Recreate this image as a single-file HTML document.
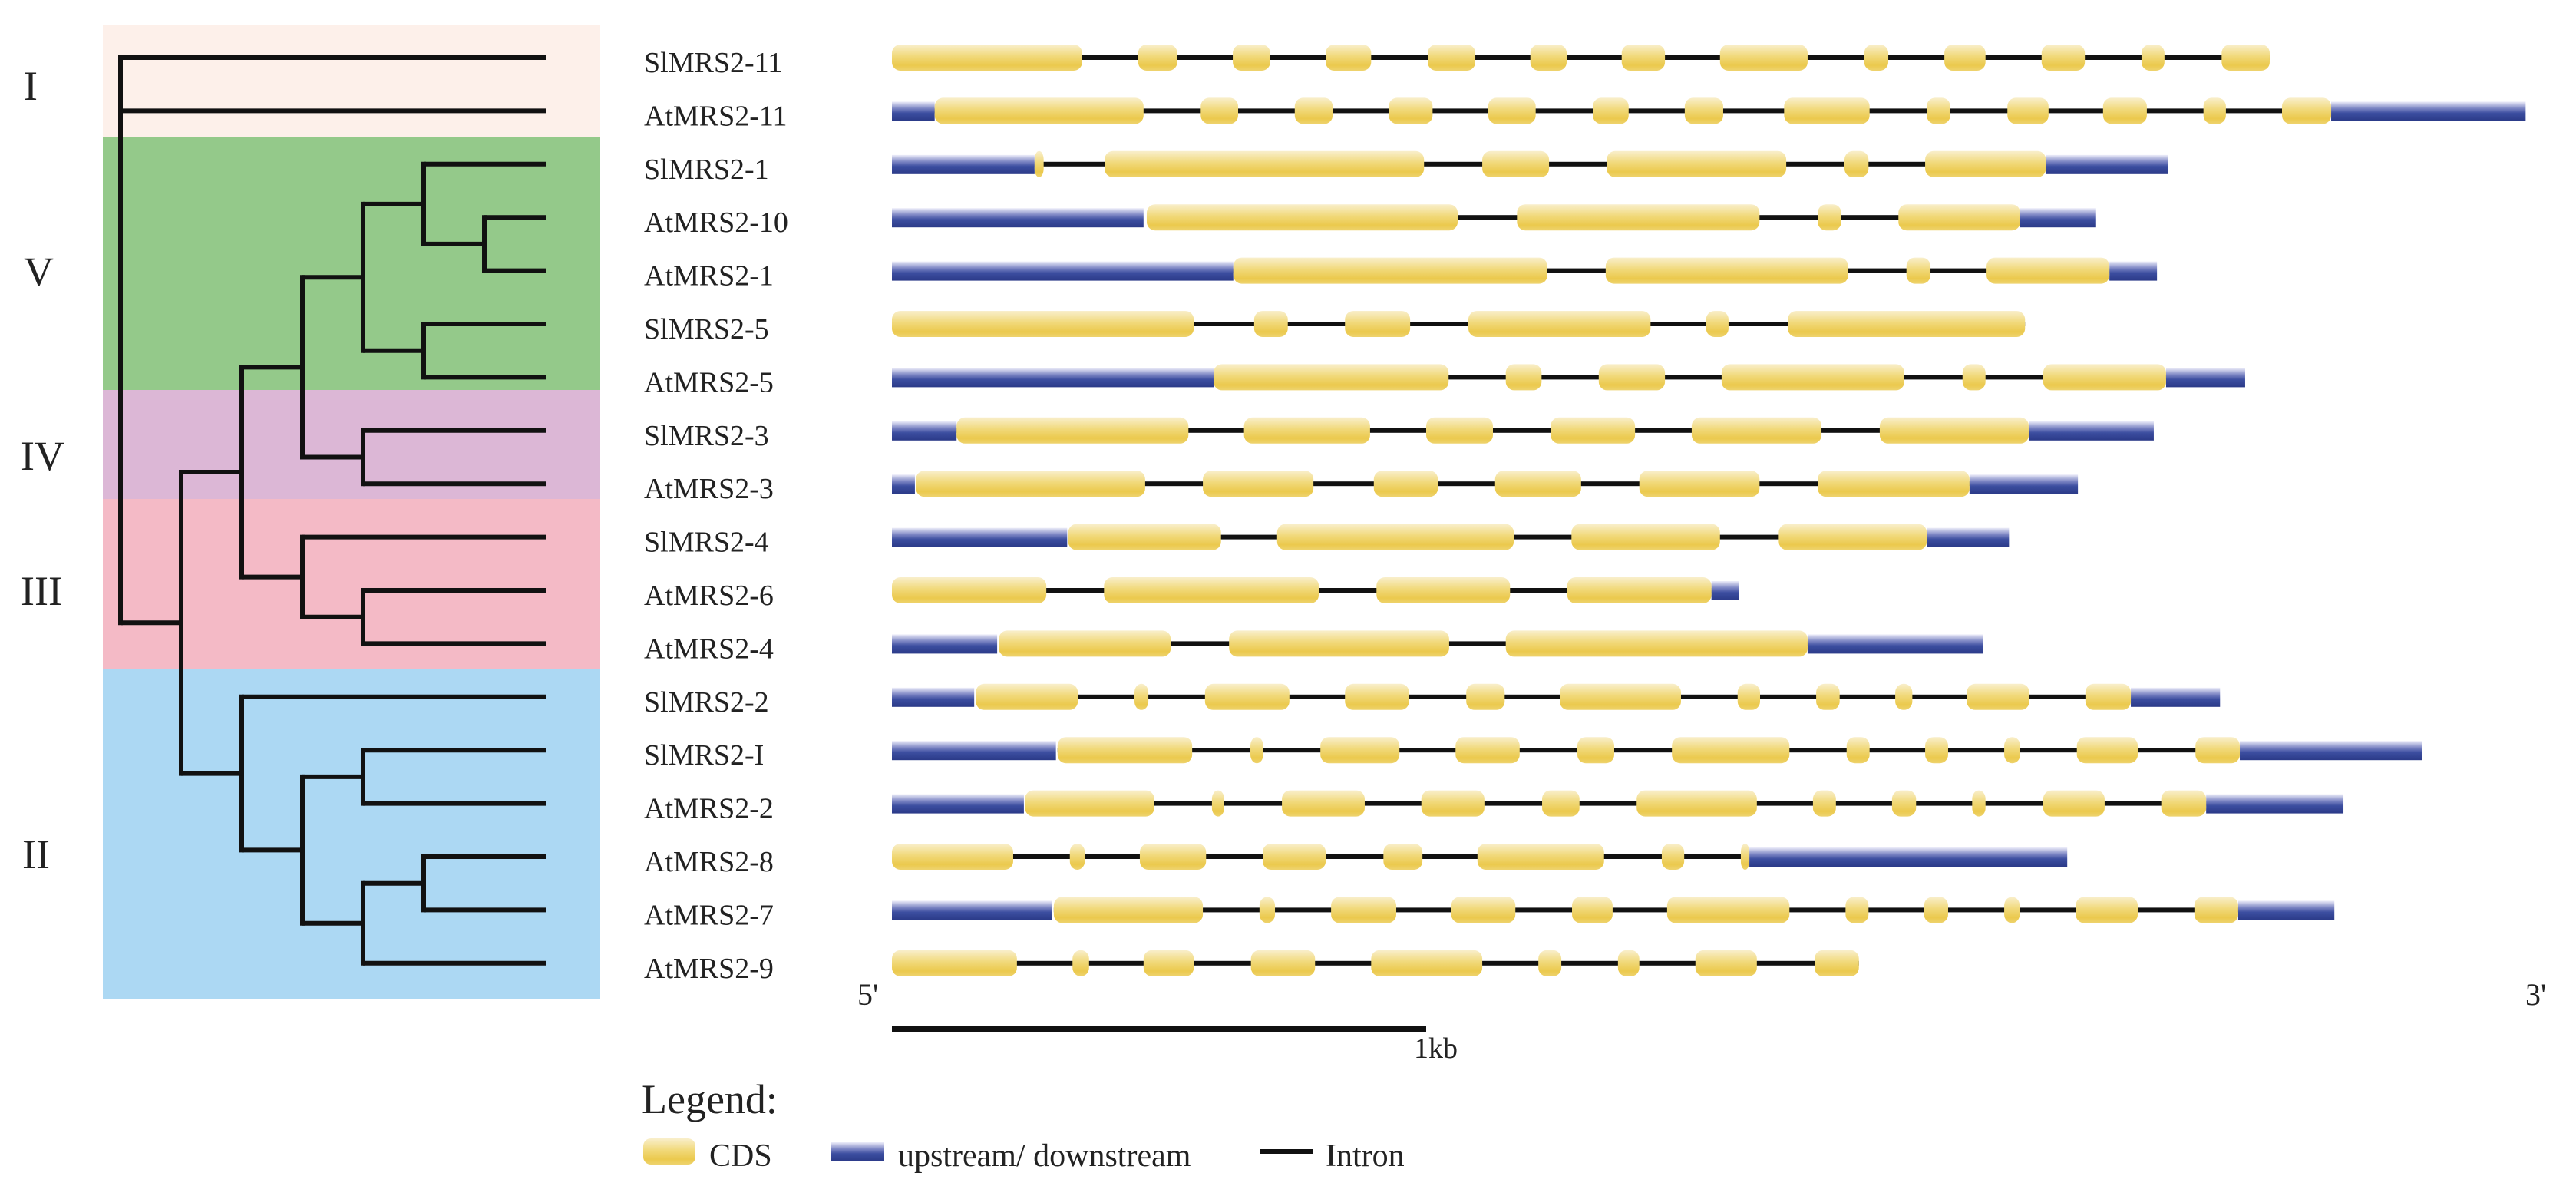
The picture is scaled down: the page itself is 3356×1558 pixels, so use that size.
<!DOCTYPE html>
<html><head><meta charset="utf-8"><style>
html,body{margin:0;padding:0;background:#fff;}
svg{display:block;}
text{font-family:"Liberation Serif","DejaVu Serif",serif;fill:#222;}
</style></head><body>
<svg id="fig" width="3356" height="1558" viewBox="0 0 3356 1558" xmlns="http://www.w3.org/2000/svg">
<defs>
<linearGradient id="gCds" x1="0" y1="0" x2="0" y2="1">
<stop offset="0" stop-color="#f9efcc"/><stop offset="0.45" stop-color="#f1d97a"/><stop offset="0.8" stop-color="#ebc94d"/><stop offset="1" stop-color="#eed36e"/>
</linearGradient>
<linearGradient id="gUtr" x1="0" y1="0" x2="0" y2="1">
<stop offset="0" stop-color="#eeeefa"/><stop offset="0.35" stop-color="#7d86c4"/><stop offset="0.6" stop-color="#3c4ea0"/><stop offset="1" stop-color="#2b3a88"/>
</linearGradient>
</defs>
<g id="bg"></g>
<g id="tree"></g>
<g id="labels"></g>
<g id="genes"></g>
<text x="1117" y="1309" font-size="40">5'</text>
<text x="3290" y="1309" font-size="40">3'</text>
<g id="scale"></g>
<text x="836" y="1450" font-size="54">Legend:</text>
<g>
<rect x="838" y="1483" width="68" height="34" rx="10" fill="url(#gCds)"/>
<text x="924" y="1519" font-size="42">CDS</text></g>
<g>
<rect x="1083" y="1488" width="69" height="25" fill="url(#gUtr)"/>
<text x="1170" y="1519" font-size="42">upstream/ downstream</text></g>
<g>
<rect x="1641" y="1497" width="69" height="6" fill="#111"/>
<text x="1727" y="1519" font-size="42">Intron</text></g>
</svg>
<script>
const NS="http://www.w3.org/2000/svg";
function mk(tag,attrs,parent){const e=document.createElementNS(NS,tag);for(const k in attrs)e.setAttribute(k,attrs[k]);parent.appendChild(e);return e;}

// ---- data ----
const geneNames=["SlMRS2-11","AtMRS2-11","SlMRS2-1","AtMRS2-10","AtMRS2-1","SlMRS2-5","AtMRS2-5","SlMRS2-3","AtMRS2-3","SlMRS2-4","AtMRS2-6","AtMRS2-4","SlMRS2-2","SlMRS2-I","AtMRS2-2","AtMRS2-8","AtMRS2-7","AtMRS2-9"];
const cladeNames=["I","V","IV","III","II"];
const cladeRows=[[0,1],[2,6],[7,8],[9,11],[12,17]];
const cladeColors=["#fdf0ea","#94c98a","#dcb7d6","#f4bac6","#acd8f3"];
// UTR segments in bp [start,end] (null = none)
const utr5=[null,[0,80],[0,267],[0,471],[0,639],null,[0,602],[0,121],[0,43],[0,328],null,[0,197],[0,154],[0,307],[0,247],null,[0,300],null];
const utr3=[null,[2694,3058],[2160,2388],[2112,2254],[2279,2368],null,[2385,2533],[2128,2362],[2017,2220],[1937,2091],[1534,1585],[1714,2043],[2319,2486],[2523,2864],[2460,2717],[1605,2200],[2520,2700],null];
// CDS exons in bp, flat start/end pairs
const exons=[
[0,356,461,534,638,708,812,897,1003,1092,1195,1263,1366,1447,1550,1714,1820,1865,1970,2047,2152,2233,2339,2382,2489,2579],
[80,471,578,648,754,825,930,1012,1116,1205,1312,1379,1484,1556,1670,1830,1937,1981,2088,2165,2267,2349,2455,2497,2602,2694],
[267,284,398,996,1105,1230,1338,1674,1783,1828,1934,2160],
[477,1059,1170,1624,1733,1777,1884,2112],
[639,1227,1336,1790,1899,1944,2049,2279],
[0,565,678,741,848,970,1079,1420,1524,1566,1677,2121],
[602,1042,1149,1216,1323,1447,1553,1895,2004,2047,2155,2385],
[121,555,659,895,1000,1125,1233,1391,1497,1740,1849,2128],
[45,474,582,789,902,1022,1129,1290,1399,1624,1733,2017],
[330,616,721,1164,1272,1550,1660,1937],
[0,289,397,799,907,1157,1264,1534],
[200,522,631,1043,1149,1714],
[157,348,454,480,586,744,848,968,1075,1147,1250,1477,1583,1625,1730,1774,1878,1910,2012,2129,2234,2319],
[310,562,671,695,802,950,1055,1175,1283,1352,1460,1680,1787,1830,1934,1977,2082,2112,2218,2332,2440,2523],
[249,491,599,622,730,885,991,1109,1217,1287,1394,1619,1724,1767,1872,1917,2022,2047,2155,2270,2376,2460],
[0,227,333,361,464,588,694,812,920,993,1096,1333,1441,1483,1589,1605],
[303,582,688,717,822,944,1047,1167,1273,1349,1451,1680,1785,1828,1932,1977,2082,2111,2216,2332,2438,2520],
[0,234,338,369,471,565,672,792,897,1105,1210,1253,1359,1399,1504,1619,1727,1810]
];
const scaleBarBp=1000;
const scaleLabel="1kb";
// tree topology: numbers = leaf rows, objects = internal nodes with depth level
const treeRoot={d:0,c:[0,1,{d:1,c:[{d:2,c:[{d:3,c:[{d:4,c:[{d:5,c:[2,{d:6,c:[3,4]}]},{d:5,c:[5,6]}]},{d:4,c:[7,8]}]},{d:3,c:[9,{d:4,c:[10,11]}]}]},{d:2,c:[12,{d:3,c:[{d:4,c:[13,14]},{d:4,c:[{d:5,c:[15,16]},17]}]}]}]}]};

// ---- axes / layout ----
const row0=75,rowStep=69.4;
const yRow=r=>row0+r*rowStep;
const x0=1162,pxPerBp=0.696;
const xBp=b=>x0+b*pxPerBp;
const treeX0=157,treeStep=79,leafX=711;
const xDepth=d=>treeX0+d*treeStep;

// backgrounds
const bg=document.getElementById('bg');
const bgTop=[33,179,508,650,871],bgBot=[179,508,650,871,1301];
const romanY=[130,372,612,788,1131],romanX=[31,31,27,27,29];
cladeRows.forEach((cr,i)=>{
  const r=mk('rect',{x:134,y:bgTop[i],width:648,height:bgBot[i]-bgTop[i],fill:cladeColors[i]},bg);
  
  
  const t=mk('text',{x:romanX[i],y:romanY[i],'font-size':54},bg);
  t.textContent=cladeNames[i];
  
  
});

// tree
const tree=document.getElementById('tree');
function drawNode(n){
  if(typeof n==='number') return {y:yRow(n),x:leafX};
  const ch=n.c.map(drawNode);
  const x=xDepth(n.d);
  const ys=ch.map(c=>c.y);
  const y1=Math.min(...ys),y2=Math.max(...ys);
  const v=mk('line',{x1:x,y1:y1-3,x2:x,y2:y2+3,stroke:'#111','stroke-width':6},tree);
  
  
  ch.forEach(c=>{
    const h=mk('line',{x1:x,y1:c.y,x2:c.x,y2:c.y,stroke:'#111','stroke-width':6},tree);
    
    
  });
  const y=(n.d===0)?y1:(y1+y2)/2;
  return {y:(y1+y2)/2,x:x};
}
drawNode(treeRoot);

// labels and genes
const labels=document.getElementById('labels'),genes=document.getElementById('genes');
geneNames.forEach((nm,i)=>{
  const y=yRow(i);
  const t=mk('text',{x:839,y:y+19,'font-size':38,textLength:0},labels);
  t.removeAttribute('textLength');
  t.textContent=nm;
  
  
  const g=mk('g',{},genes);
  
  
  const ex=exons[i];
  const a=ex[0],b=ex[ex.length-1];
  const ln=mk('rect',{x:xBp(a),y:y-3,width:xBp(b)-xBp(a),height:6,fill:'#111'},g);
  
  
  [utr5[i],utr3[i]].forEach((u,k)=>{
    if(!u) return;
    const r=mk('rect',{x:xBp(u[0]),y:y-12,width:xBp(u[1])-xBp(u[0]),height:25,fill:'url(#gUtr)'},g);
    
    
  });
  for(let j=0;j<ex.length;j+=2){
    const xs=xBp(ex[j]),w=xBp(ex[j+1])-xs;
    const r=mk('rect',{x:xs,y:y-17,width:w,height:34,rx:Math.min(11,w/2),ry:Math.min(11,17),fill:'url(#gCds)'},g);
    
    
  }
});

// scale bar
const sc=document.getElementById('scale');
const sb=mk('rect',{x:xBp(0),y:1337,width:xBp(scaleBarBp)-xBp(0),height:7,fill:'#111'},sc);


const st=mk('text',{x:xBp(scaleBarBp)-16,y:1378,'font-size':38},sc);
st.textContent=scaleLabel;


</script>
</body></html>
